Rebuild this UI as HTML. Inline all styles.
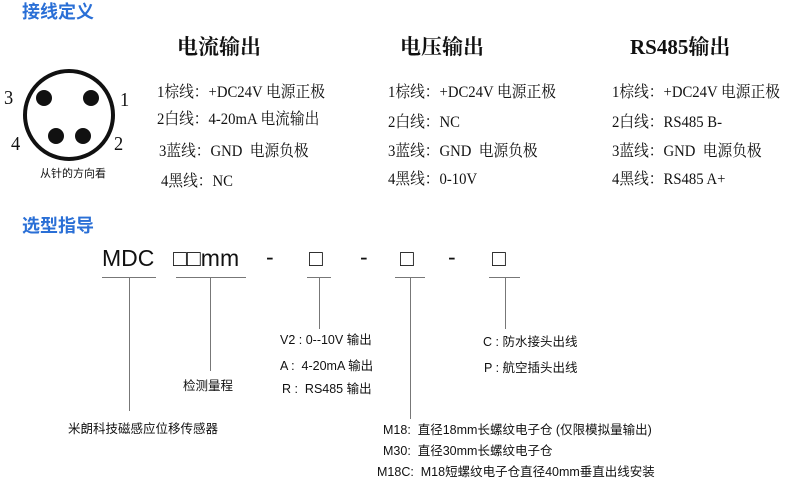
<!DOCTYPE html>
<html><head><meta charset="utf-8"><style>
body{margin:0;width:790px;height:483px;background:#fff;position:relative;overflow:hidden;font-family:"Liberation Sans","Noto Sans CJK SC",sans-serif;color:#111}
.a{position:absolute;white-space:pre;line-height:1}
.blue{color:#2a6fd6;font-size:18px;font-weight:bold}
.h{font-family:"Liberation Serif","Noto Serif CJK SC",serif;font-size:21px;font-weight:bold}
.r{font-family:"Liberation Serif","Noto Serif CJK SC",serif;font-size:16px;transform:scaleX(0.92);transform-origin:0 0}
.s{font-size:12.5px}
.big{font-size:23px}
.l{position:absolute;background:#777}
</style></head><body>
<div class="a blue" style="left:22px;top:3px">接线定义</div>
<div class="a h" style="left:177px;top:37px">电流输出</div>
<div class="a h" style="left:400px;top:37px">电压输出</div>
<div class="a h" style="left:630px;top:37px">RS485输出</div>

<svg style="position:absolute;left:0;top:60px" width="150" height="110">
<circle cx="69" cy="55" r="44" fill="none" stroke="#111" stroke-width="4"/>
<circle cx="44" cy="38" r="8" fill="#111"/><circle cx="91" cy="38" r="8" fill="#111"/>
<circle cx="56" cy="76" r="8" fill="#111"/><circle cx="83" cy="76" r="8" fill="#111"/>
</svg>
<div class="a r" style="left:4px;top:88px;font-size:20px">3</div>
<div class="a r" style="left:120px;top:90px;font-size:20px">1</div>
<div class="a r" style="left:11px;top:134px;font-size:20px">4</div>
<div class="a r" style="left:114px;top:134px;font-size:20px">2</div>
<div class="a" style="left:40px;top:169px;font-size:11px">从针的方向看</div>

<div class="a r" style="left:157px;top:85px">1棕线：+DC24V 电源正极</div>
<div class="a r" style="left:157px;top:112px">2白线：4-20mA 电流输出</div>
<div class="a r" style="left:159px;top:144px">3蓝线：GND  电源负极</div>
<div class="a r" style="left:161px;top:174px">4黑线：NC</div>

<div class="a r" style="left:388px;top:85px">1棕线：+DC24V 电源正极</div>
<div class="a r" style="left:388px;top:115px">2白线：NC</div>
<div class="a r" style="left:388px;top:144px">3蓝线：GND  电源负极</div>
<div class="a r" style="left:388px;top:172px">4黑线：0-10V</div>

<div class="a r" style="left:612px;top:85px">1棕线：+DC24V 电源正极</div>
<div class="a r" style="left:612px;top:115px">2白线：RS485 B-</div>
<div class="a r" style="left:612px;top:144px">3蓝线：GND  电源负极</div>
<div class="a r" style="left:612px;top:172px">4黑线：RS485 A+</div>

<div class="a blue" style="left:22px;top:217px">选型指导</div>
<div class="a big" style="left:102px;top:247px">MDC</div>
<div class="a big" style="left:173px;top:247px">□□mm</div>
<div class="a big" style="left:266px;top:246px">-</div>
<div class="a big" style="left:309px;top:247px">□</div>
<div class="a big" style="left:360px;top:246px">-</div>
<div class="a big" style="left:400px;top:247px">□</div>
<div class="a big" style="left:448px;top:246px">-</div>
<div class="a big" style="left:492px;top:247px">□</div>

<div class="l" style="left:102px;top:277px;width:54px;height:1px"></div>
<div class="l" style="left:176px;top:277px;width:70px;height:1px"></div>
<div class="l" style="left:307px;top:277px;width:24px;height:1px"></div>
<div class="l" style="left:395px;top:277px;width:30px;height:1px"></div>
<div class="l" style="left:489px;top:277px;width:31px;height:1px"></div>
<div class="l" style="left:129px;top:277px;width:1px;height:134px"></div>
<div class="l" style="left:210px;top:277px;width:1px;height:94px"></div>
<div class="l" style="left:319px;top:277px;width:1px;height:52px"></div>
<div class="l" style="left:410px;top:277px;width:1px;height:142px"></div>
<div class="l" style="left:505px;top:277px;width:1px;height:52px"></div>

<div class="a s" style="left:280px;top:334px">V2 : 0--10V 输出</div>
<div class="a s" style="left:280px;top:360px">A :  4-20mA 输出</div>
<div class="a s" style="left:282px;top:383px">R :  RS485 输出</div>
<div class="a s" style="left:183px;top:380px">检测量程</div>
<div class="a s" style="left:68px;top:423px">米朗科技磁感应位移传感器</div>
<div class="a s" style="left:483px;top:336px">C : 防水接头出线</div>
<div class="a s" style="left:484px;top:362px">P : 航空插头出线</div>
<div class="a s" style="left:383px;top:424px">M18:  直径18mm长螺纹电子仓 (仅限模拟量输出)</div>
<div class="a s" style="left:383px;top:445px">M30:  直径30mm长螺纹电子仓</div>
<div class="a s" style="left:377px;top:466px">M18C:  M18短螺纹电子仓直径40mm垂直出线安装</div>
</body></html>
